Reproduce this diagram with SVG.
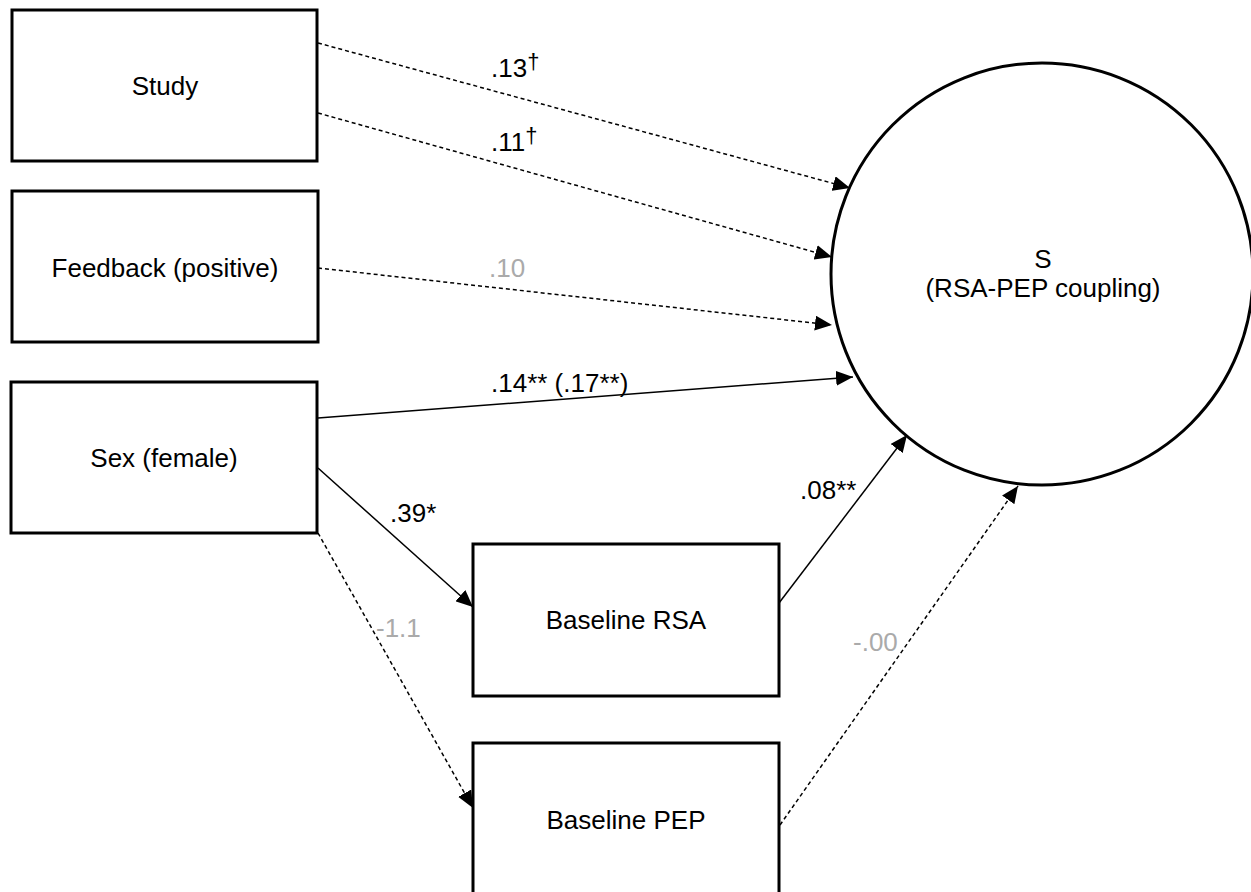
<svg xmlns="http://www.w3.org/2000/svg" width="1251" height="892" viewBox="0 0 1251 892">
<style>
  .box { fill: #fff; stroke: #000; stroke-width: 3; }
  .lbl { font-family: "Liberation Sans", Arial, sans-serif; font-size: 26px; fill: #000; text-anchor: middle; }
  .num { font-family: "Liberation Sans", Arial, sans-serif; font-size: 26px; fill: #000; }
  .gray { fill: #aaaaaa; }
  .sup { font-size: 22px; fill: #000; }
  .solid { stroke: #000; stroke-width: 1.5; fill: none; marker-end: url(#arr); }
  .dash { stroke: #000; stroke-width: 1.5; fill: none; stroke-dasharray: 4 3; marker-end: url(#arr); }
</style>
<defs>
  <marker id="arr" markerUnits="userSpaceOnUse" markerWidth="17" markerHeight="15" refX="17" refY="7.5" orient="auto">
    <path d="M0,0 L17,7.5 L0,15 z" fill="#000"/>
  </marker>
</defs>
<rect width="1251" height="892" fill="#fff"/>
<g id="connectors">
  <line class="dash" x1="318" y1="43" x2="850" y2="188"/>
  <line class="dash" x1="318" y1="113" x2="832" y2="257"/>
  <line class="dash" x1="318" y1="268" x2="832" y2="325"/>
  <line class="solid" x1="318" y1="418" x2="853" y2="377"/>
  <line class="solid" x1="318" y1="468" x2="473" y2="607"/>
  <line class="dash" x1="318" y1="533" x2="473" y2="808"/>
  <line class="solid" x1="779" y1="603" x2="907" y2="435"/>
  <line class="dash" x1="780" y1="825" x2="1018" y2="486"/>
  <text class="num" x="491" y="77">.13<tspan class="sup" dy="-8">†</tspan></text>
  <text class="num" x="491" y="151">.11<tspan class="sup" dy="-8">†</tspan></text>
  <text class="num gray" x="489" y="277">.10</text>
  <text class="num" x="491" y="392">.14** (.17**)</text>
  <text class="num" x="390" y="522">.39*</text>
  <text class="num gray" x="376" y="637">-1.1</text>
  <text class="num" x="800" y="499">.08**</text>
  <text class="num gray" x="853" y="651">-.00</text>
</g>
<g id="study">
  <rect class="box" x="12" y="10" width="305" height="151"/>
  <text class="lbl" x="165" y="95">Study</text>
</g>
<g id="feedback">
  <rect class="box" x="12" y="191" width="306" height="151"/>
  <text class="lbl" x="165" y="277">Feedback (positive)</text>
</g>
<g id="sex">
  <rect class="box" x="11" y="382" width="306" height="151"/>
  <text class="lbl" x="164" y="467">Sex (female)</text>
</g>
<g id="baseline-rsa">
  <rect class="box" x="473" y="544" width="306" height="152"/>
  <text class="lbl" x="626" y="629">Baseline RSA</text>
</g>
<g id="baseline-pep">
  <rect class="box" x="473" y="743" width="306" height="152"/>
  <text class="lbl" x="626" y="829">Baseline PEP</text>
</g>
<g id="s">
  <circle cx="1042" cy="274" r="211" fill="#fff" stroke="#000" stroke-width="3"/>
  <text class="lbl" x="1043" y="268">S</text>
  <text class="lbl" x="1043" y="297">(RSA-PEP coupling)</text>
</g>
</svg>
